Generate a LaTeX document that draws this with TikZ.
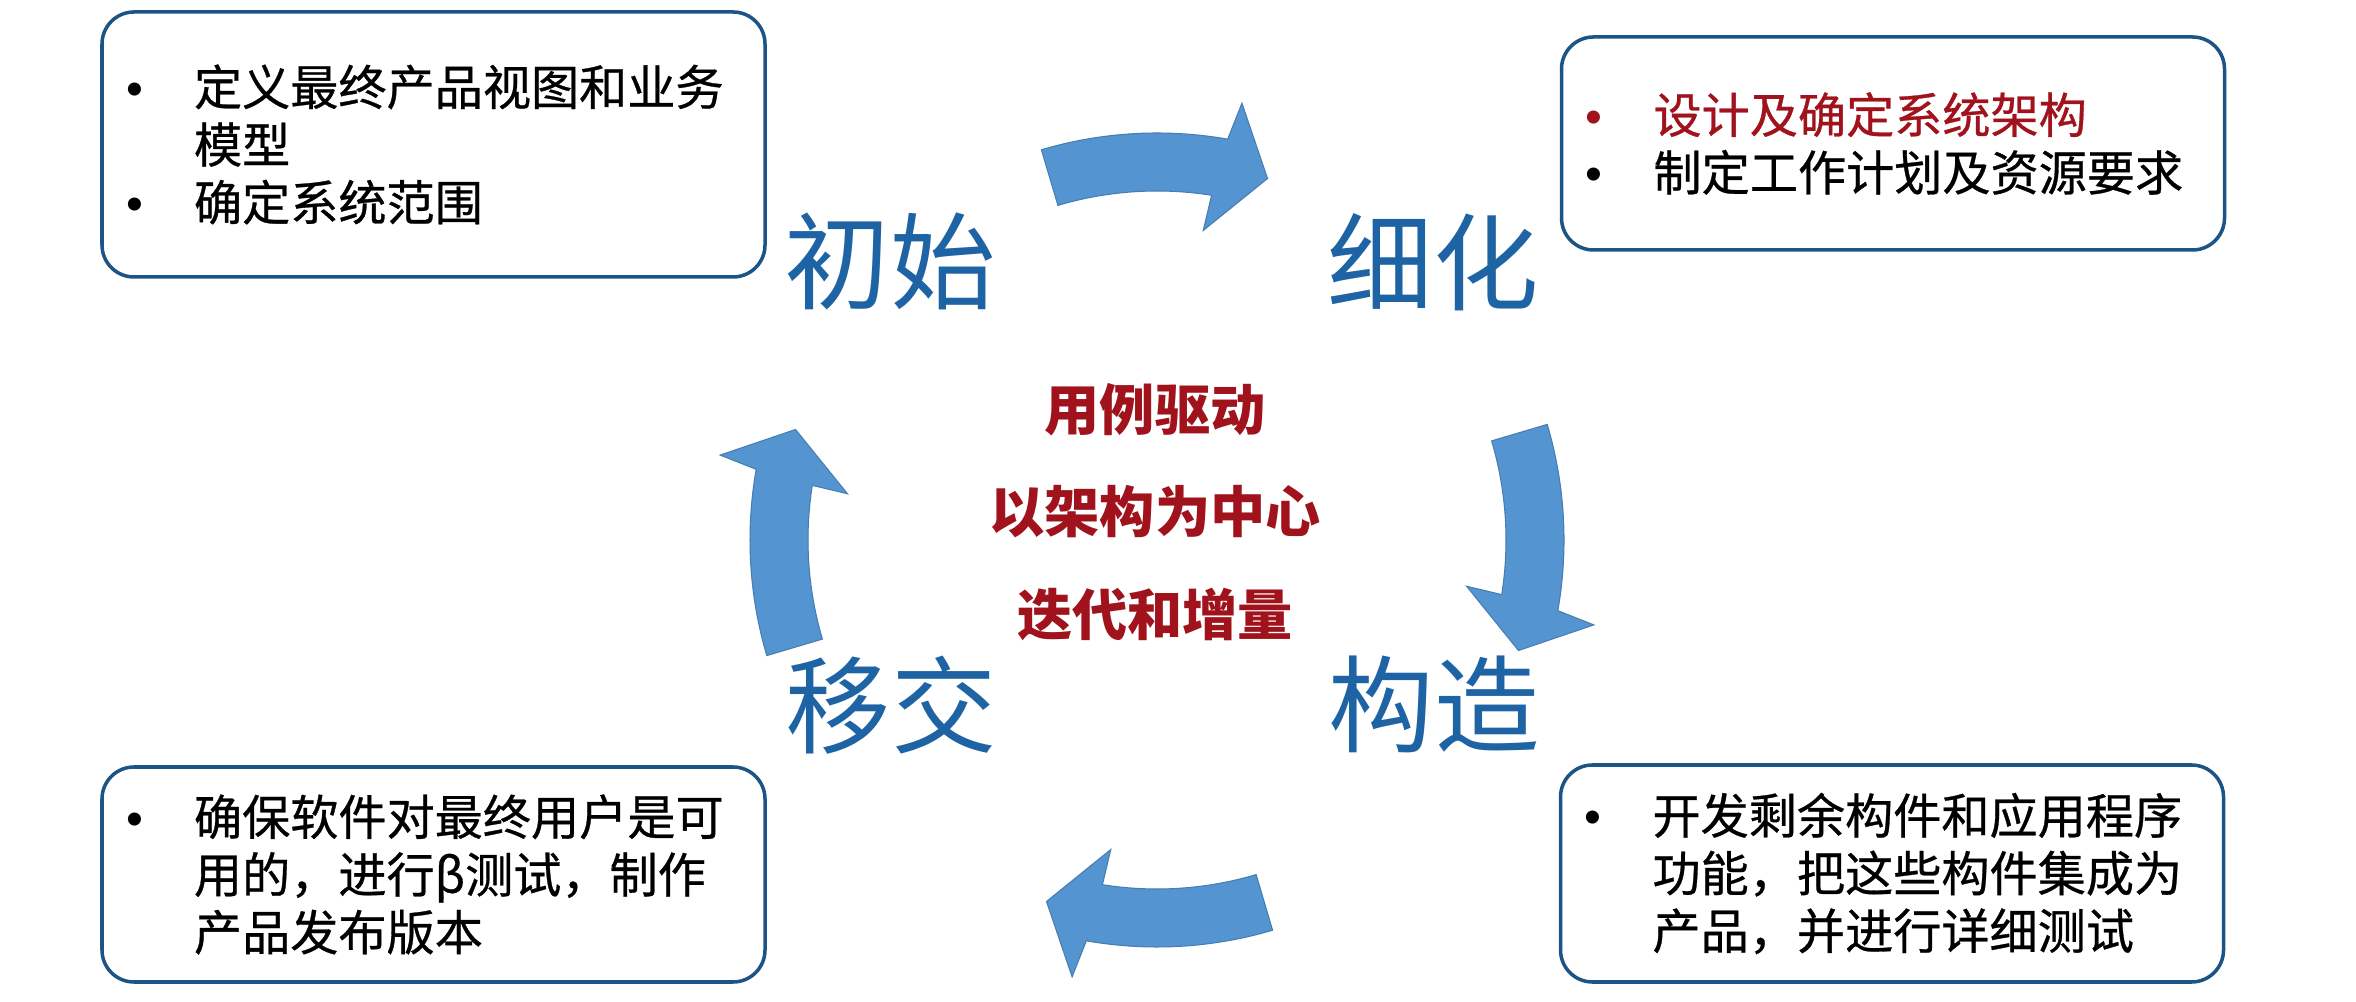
\documentclass[tikz,border=0pt]{standalone}
\usepackage{fontspec}
\setmainfont{Noto Sans CJK SC}
\newfontfamily\boxfont[FakeBold=0.6]{Noto Sans CJK SC}
\newfontfamily\bulfont{Liberation Sans}
\usetikzlibrary{calc}
\definecolor{boxblue}{RGB}{28,84,134}
\definecolor{phaseblue}{RGB}{30,100,165}
\definecolor{arrowblue}{RGB}{84,148,208}
\definecolor{keyred}{RGB}{160,18,28}
\newcommand{\bul}{\makebox[0.68cm][l]{\bulfont •}}
\newcommand{\gap}{\hspace*{0.68cm}}

\begin{document}
\begin{tikzpicture}[
	phasebox/.style={draw=boxblue, line width=1pt, rounded corners=0.32cm, text width=6.15cm, inner xsep=0.24cm, inner ysep=0pt, align=left, font=\boxfont\fontsize{13.7pt}{16.4pt}\selectfont},
	phase/.style={text=phaseblue, inner sep=0pt, font=\fontsize{30pt}{36pt}\selectfont},
	motto/.style={text=keyred, inner sep=0pt, font=\fontsize{15.7pt}{19pt}\selectfont\bfseries},
	cyclearrow/.style={fill=arrowblue, draw=arrowblue!85!black, line width=0.3pt}
]

	\fill[white] (0,0) rectangle (23.56,10.02);
	\useasboundingbox (0,0) rectangle (23.56,10.02);

	\coordinate (hub) at (11.57,4.62);

	\foreach \s in {106.5,16.5,286.5,196.5}
		\draw[cyclearrow] (hub) ++(\s:4.07) arc[start angle=\s, end angle=\s-26.5, radius=4.07]
			-- ($(hub)+({\s-27.5}:4.45)$) -- ($(hub)+({\s-33.5}:3.78)$) -- ($(hub)+({\s-25}:3.13)$)
			-- ($(hub)+({\s-25.5}:3.49)$) arc[start angle=\s-25.5, end angle=\s, radius=3.49] -- cycle;

	\node[phasebox, minimum height=2.65cm] (inceptbox) at (4.335,8.575)
		{\bul 定义最终产品视图和业务\\ \gap 模型\\ \bul 确定系统范围};
	\node[phasebox, minimum height=2.13cm] (elabbox) at (18.93,8.585)
		{{\color{keyred}\bul 设计及确定系统架构}\\ \bul 制定工作计划及资源要求};
	\node[phasebox, minimum height=2.15cm] (transbox) at (4.335,1.275)
		{\bul 确保软件对最终用户是可\\ \gap 用的，进行β测试，制作\\ \gap 产品发布版本};
	\node[phasebox, minimum height=2.17cm] (constrbox) at (18.92,1.285)
		{\bul 开发剩余构件和应用程序\\ \gap 功能，把这些构件集成为\\ \gap 产品，并进行详细测试};

	\node[phase] (incept) at (8.90,7.41) {初始};
	\node[phase] (elab) at (14.33,7.40) {细化};
	\node[phase] (trans) at (8.91,2.97) {移交};
	\node[phase] (constr) at (14.34,2.98) {构造};

	\node[motto] (usecase) at (11.55,5.92) {用例驱动};
	\node[motto] (archi) at (11.55,4.90) {以架构为中心};
	\node[motto] (iter) at (11.55,3.88) {迭代和增量};

\end{tikzpicture}
\end{document}
